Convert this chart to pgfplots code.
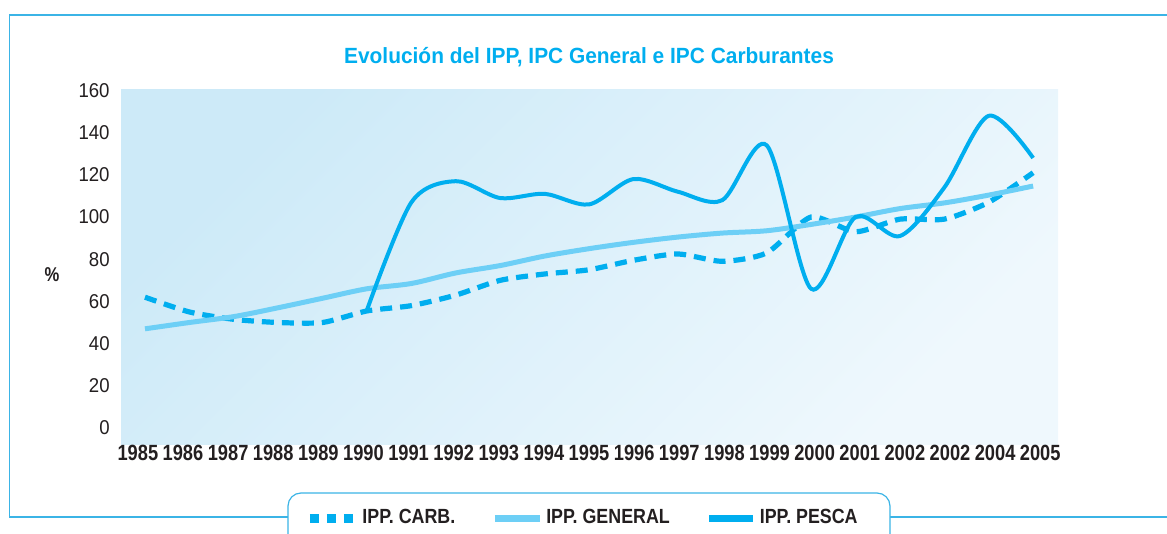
\documentclass[border=0pt]{standalone}
\usepackage{fontspec}
\setmainfont{Liberation Sans}
\newfontfamily\cond[FakeStretch=0.83]{Liberation Sans}
\newfontfamily\condG[FakeStretch=0.87]{Liberation Sans}
\newfontfamily\condT[FakeStretch=0.95]{Liberation Sans}
\newfontfamily\condL[FakeStretch=0.93]{Liberation Sans}
\usepackage{pgfplots}
\pgfplotsset{compat=1.18}
\definecolor{cyanA}{HTML}{00AEEF}
\definecolor{cyanL}{HTML}{6DCFF6}
\definecolor{frameC}{HTML}{3BB4E6}
\definecolor{bgA}{HTML}{CDEAF8}
\definecolor{bgB}{HTML}{EFF8FD}
\definecolor{txt}{HTML}{231F20}

% years are plotted at 0..20 (1985..2005)
\pgfplotstableread{
x carb general
0 62 47
1 55 50
2 51.5 52.8
3 50 57
4 50 61.5
5 55.5 66
6 58 68.5
7 63 73.5
8 70 77
9 73 81.5
10 75 85
11 79.5 88
12 82.5 90.5
13 79 92.4
14 83 93.5
15 100 96.5
16 93 100
17 99 104
18 99 106.7
19 107 110.4
20 121 114.7
}\ipcdata

\begin{document}
\begin{tikzpicture}
\path[use as bounding box] (0,0) rectangle (583.5pt,-267pt);
% outer frame
\draw[frameC, line width=0.6pt] (583.5pt,-7.5pt) -- (4.75pt,-7.5pt) -- (4.75pt,-258.5pt) -- (144pt,-258.5pt);
\draw[frameC, line width=0.6pt] (445pt,-258.5pt) -- (583.5pt,-258.5pt);
\draw[frameC, line width=0.6pt, fill=white, rounded corners=6.5pt]
  (144pt,-290pt) -- (144pt,-246.5pt) -- (445pt,-246.5pt) -- (445pt,-290pt);

\begin{axis}[
  at={(60.5pt,-222pt)}, anchor=south west,
  scale only axis, width=468.5pt, height=177.5pt,
  xmin=-0.54, xmax=20.56, ymin=-7.6, ymax=160.7,
  axis line style={draw=none},
  tick style={draw=none},
  axis background/.style={shade, top color=bgA, bottom color=bgB, shading angle=45},
  ytick={0,20,...,160},
  xtick={-0.16,0.856,1.872,2.888,3.904,4.92,5.936,6.952,7.968,8.984,10,11.016,12.032,13.048,14.064,15.08,16.096,17.112,18.128,19.144,20.16},
  xticklabels={1985,1986,1987,1988,1989,1990,1991,1992,1993,1994,1995,1996,1997,1998,1999,2000,2001,2002,2002,2004,2005},
  xticklabel style={font=\fontsize{11}{12}\cond\bfseries, text=txt, anchor=center, inner sep=0pt, yshift=-4.5pt},
  yticklabel style={font=\fontsize{10}{12}\condL, text=txt, anchor=east, inner sep=0pt, xshift=-5.5pt, /pgf/number format/assume math mode=true},
  title={Evolución del IPP, IPC General e IPC Carburantes},
  every axis title shift=0pt,
  title style={at={(axis description cs:0.4995,1.090)}, anchor=center, font=\fontsize{11}{13}\condT\bfseries, text=cyanA},
  ylabel={\%},
  every axis y label/.style={at={(axis description cs:-0.0736,0.476)}, anchor=center, font=\fontsize{10}{12}\cond\bfseries, text=txt},
  legend style={at={(axis description cs:0.1964,-0.2085)}, anchor=west, draw=none, fill=none, inner sep=0pt,
    legend columns=3, font=\fontsize{10.25}{12}\condG\bfseries, text=txt,
    nodes={inner sep=0pt},
    /tikz/every odd column/.append style={column sep=1.5pt},
    /tikz/every even column/.append style={column sep=18pt}},
]
\addplot[cyanA, line width=2.6pt, dash pattern=on 6pt off 4pt, smooth, tension=0.4,
  legend image code/.code={\draw[cyanA, line width=4.5pt, dash pattern=on 4.5pt off 4pt] (0pt,0pt) -- (22.5pt,0pt);}]
  table[x=x, y=carb] {\ipcdata};
\addlegendentry{IPP. CARB.}
\addplot[cyanL, line width=2.5pt, smooth,
  legend image code/.code={\draw[cyanL, line width=3.5pt] (0pt,0pt) -- (22.5pt,0pt);}]
  table[x=x, y=general] {\ipcdata};
\addlegendentry{IPP. GENERAL}
\addplot[cyanA, line width=2pt, smooth,
  legend image code/.code={\draw[cyanA, line width=3.5pt] (0pt,0pt) -- (22pt,0pt);}]
  coordinates {
  (5,56) (6,107) (7,117) (8,109) (9,111) (10,106) (11,118) (12,112) (13,108)
  (14,134) (15,66) (16,100) (17,91) (18,114) (19,148) (20,128)
  };
\addlegendentry{IPP. PESCA}
\end{axis}
\end{tikzpicture}
\end{document}
